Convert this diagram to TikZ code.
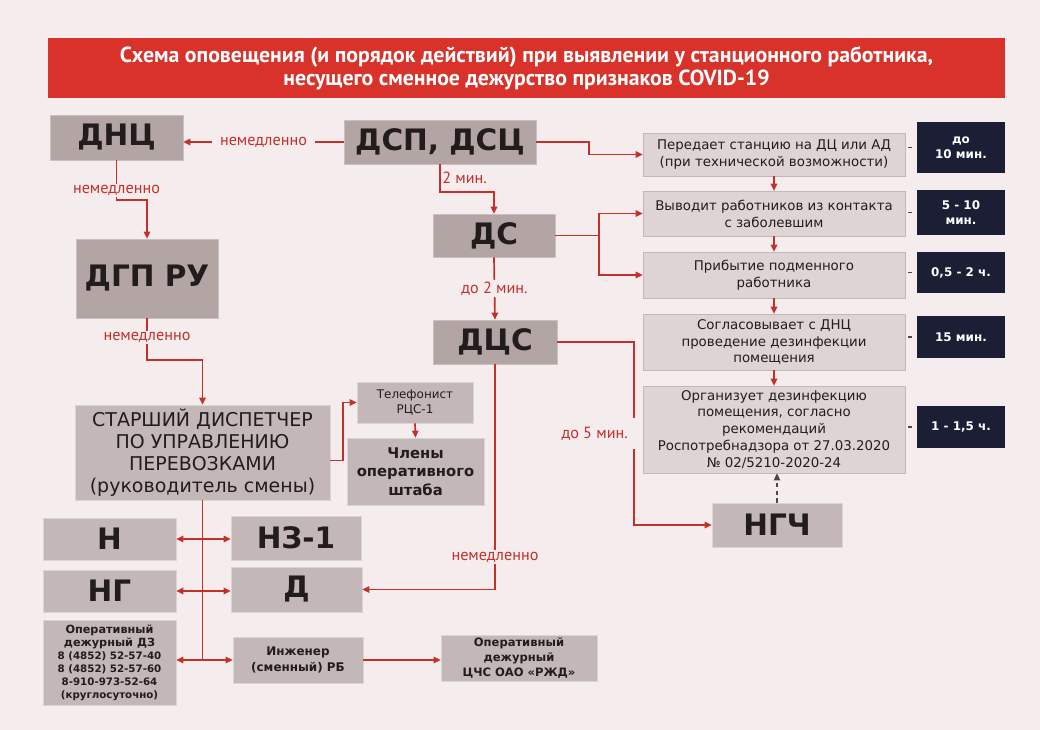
\documentclass[tikz,border=0pt]{standalone}
\usepackage{fontspec}
\setmainfont{DejaVu Sans}
\newfontfamily\lblfont{PT Sans}
\usetikzlibrary{arrows.meta,calc}

\definecolor{bgcol}{HTML}{F5EDED}
\definecolor{redline}{HTML}{C4302C}
\definecolor{bannerred}{HTML}{D8322B}
\definecolor{darkbox}{HTML}{B3A5A4}
\definecolor{midbox}{HTML}{C3B8B7}
\definecolor{lightbox}{HTML}{DDD4D3}
\definecolor{navybox}{HTML}{1B1E34}
\definecolor{inkcol}{HTML}{221C1C}

\tikzset{
  bigbox/.style={fill=darkbox, draw=darkbox!70!white, text=inkcol, inner sep=0pt,
    font=\fontsize{21}{23}\selectfont\bfseries},
  leftbox/.style={fill=midbox, draw=midbox!60!white, text=inkcol, inner sep=0pt, align=center},
  stepbox/.style={fill=lightbox, draw=midbox, text=inkcol, inner sep=0pt, align=center,
    minimum width=6.55cm, font=\fontsize{9.5}{12}\selectfont},
  timebox/.style={fill=navybox, text=white, inner sep=0pt, align=center,
    minimum width=2.2cm, font=\fontsize{8.5}{11}\selectfont\bfseries},
  link/.style={draw=redline, line width=1.2pt},
  arr/.style={link, -{Triangle[length=5pt,width=4.5pt]}},
  twoarr/.style={link, {Triangle[length=5pt,width=4.5pt]}-{Triangle[length=5pt,width=4.5pt]}},
  lbl/.style={text=redline, font=\lblfont\fontsize{11.5}{12}\selectfont, inner sep=1pt},
  gaplbl/.style={lbl, fill=bgcol},
  tie/.style={draw=inkcol!80, line width=1pt, dash pattern=on 3pt off 2.5pt},
}

\begin{document}
\begin{tikzpicture}[x=0.025cm, y=-0.025cm]
    \fill[bgcol] (0,0) rectangle (1040,730);

    % banner %
    \node[fill=bannerred, text=white, minimum width=23.925cm, minimum height=1.5cm, align=center,
      font=\lblfont\fontsize{15.5}{16.5}\selectfont\bfseries] (title) at (526.5,68)
      {Схема оповещения (и порядок действий) при выявлении у станционного работника,\\
       несущего сменное дежурство признаков COVID-19};

    % main chain %
    \node[bigbox, minimum width=3.325cm, minimum height=1.125cm] (dnc) at (116.5,137.5) {ДНЦ};
    \node[bigbox, minimum width=4.8cm, minimum height=1.1cm] (dsp) at (440,142) {ДСП, ДСЦ};
    \node[bigbox, minimum width=3.05cm, minimum height=1.075cm] (ds) at (494,235.5) {ДС};
    \node[bigbox, minimum width=3.1cm, minimum height=1.1cm] (dcs) at (495,342) {ДЦС};
    \node[bigbox, minimum width=3.55cm, minimum height=1.975cm] (dgp) at (147,278.5) {ДГП РУ};
    \node[leftbox, minimum width=3.25cm, minimum height=1.1cm, font=\fontsize{21}{23}\selectfont\bfseries] (ngch) at (777,525) {НГЧ};

    % left part %
    \node[leftbox, minimum width=6.375cm, minimum height=2.375cm, font=\fontsize{13.5}{15.5}\selectfont] (chief) at (202.5,452.5)
      {СТАРШИЙ ДИСПЕТЧЕР\\ПО УПРАВЛЕНИЮ\\ПЕРЕВОЗКАМИ\\(руководитель смены)};
    \node[leftbox, minimum width=2.9cm, minimum height=1.025cm, font=\fontsize{8.5}{11}\selectfont] (phone) at (415,402.5) {Телефонист\\РЦС-1};
    \node[leftbox, minimum width=3.425cm, minimum height=1.675cm, font=\fontsize{10.5}{13}\selectfont\bfseries] (staff) at (415.5,471.5)
      {Члены\\оперативного\\штаба};
    \node[leftbox, minimum width=3.325cm, minimum height=1.05cm, font=\fontsize{21}{23}\selectfont\bfseries] (n) at (109.5,539) {Н};
    \node[leftbox, minimum width=3.25cm, minimum height=1.1cm, font=\fontsize{21}{23}\selectfont\bfseries] (nz) at (296,538) {НЗ-1};
    \node[leftbox, minimum width=3.325cm, minimum height=1.05cm, font=\fontsize{21}{23}\selectfont\bfseries] (ng) at (109.5,591) {НГ};
    \node[leftbox, minimum width=3.275cm, minimum height=1.125cm, font=\fontsize{21}{23}\selectfont\bfseries] (d) at (296.5,589.5) {Д};
    \node[leftbox, minimum width=3.325cm, minimum height=2.125cm, font=\fontsize{7.3}{9.3}\selectfont\bfseries] (dz) at (109.5,662.5)
      {{\fontsize{8}{9.3}\selectfont Оперативный}\\{\fontsize{8}{9.3}\selectfont дежурный ДЗ}\\8 (4852) 52-57-40\\8 (4852) 52-57-60\\8-910-973-52-64\\(круглосуточно)};
    \node[leftbox, minimum width=3.25cm, minimum height=1.15cm, font=\fontsize{8.5}{11}\selectfont\bfseries] (eng) at (298,660)
      {Инженер\\(сменный) РБ};
    \node[leftbox, minimum width=3.9cm, minimum height=1.15cm, font=\fontsize{8.2}{10.5}\selectfont\bfseries] (rzd) at (519,658)
      {Оперативный\\дежурный\\ЦЧС ОАО «РЖД»};

    % steps and times %
    \node[stepbox, minimum height=1.075cm] (s1) at (774,154.5) {Передает станцию на ДЦ или АД\\(при технической возможности)};
    \node[stepbox, minimum height=1.125cm] (s2) at (774,213.5) {Выводит работников из контакта\\с заболевшим};
    \node[stepbox, minimum height=1.15cm] (s3) at (774,275) {Прибытие подменного\\работника};
    \node[stepbox, minimum height=1.4cm] (s4) at (774,342) {Согласовывает с ДНЦ\\проведение дезинфекции\\помещения};
    \node[stepbox, minimum height=2.175cm] (s5) at (774,429.5)
      {Организует дезинфекцию\\помещения, согласно\\рекомендаций\\Роспотребнадзора от 27.03.2020\\№ 02/5210-2020-24};
    \node[timebox, minimum height=1.275cm] (t1) at (961,147.5) {до\\10 мин.};
    \node[timebox, minimum height=1.125cm] (t2) at (961,212.5) {5 - 10\\мин.};
    \node[timebox, minimum height=1.025cm] (t3) at (961,272.5) {0,5 - 2 ч.};
    \node[timebox, minimum height=1.05cm] (t4) at (961,337) {15 мин.};
    \node[timebox, minimum height=1.05cm] (t5) at (961,427) {1 - 1,5 ч.};

    % connectors %
    \draw[arr] (dsp.west) -- node[gaplbl, inner xsep=6pt] {немедленно} (dsp.west -| dnc.east);
    \draw[arr] (dnc.south) -- node[gaplbl, pos=0.75] {немедленно} ++(0,40) -| (dgp.north);
    \draw[arr] (dgp.south) -- node[gaplbl, pos=0.45] {немедленно} ++(0,42) -| (chief.north);
    \draw[arr] (dsp.south) -- node[lbl, right] {2 мин.} ++(0,28) -| (ds.north);
    \draw[arr] (ds.south) -- node[gaplbl] {до 2 мин.} (dcs.north);
    \draw[arr] (dsp.east) -- ++(53,0) |- (s1.west);
    \draw[link] (ds.east) -- ++(44,0) coordinate (fork);
    \draw[arr] (fork) |- (s2.west);
    \draw[arr] (fork) |- (s3.west);
    \draw[arr] (s1.south) -- (s2.north);
    \draw[arr] (s2.south) -- (s3.north);
    \draw[arr] (s3.south) -- (s4.north);
    \draw[arr] (s4.south) -- (s5.north);
    \foreach \s/\t in {s1/t1, s2/t2, s3/t3, s4/t4, s5/t5}
        \draw[tie] ([xshift=2pt]\t.west -| \s.east) -- ([xshift=-1pt]\t.west);
    \draw[tie, -{Triangle[length=5pt,width=4.5pt]}] (ngch.north) -- (ngch.north |- s5.south);
    \draw[arr] (dcs.east) -- ++(77,0) |- node[gaplbl, pos=0.25, anchor=east, xshift=3pt, inner xsep=7pt,
      minimum height=0.78cm] {до 5 мин.} (ngch.west);
    \draw[arr] (dcs.south) |- node[gaplbl, pos=0.428] {немедленно} (d.east);
    \draw[arr] ([yshift=-0.2cm]chief.east) -- ++(13,0) |- (phone.west);
    \draw[arr] (phone.south) -- (staff.north);
    \draw[link] (chief.south) -- (chief.south |- eng.west);
    \draw[twoarr] (n.east) -- (n.east -| nz.west);
    \draw[twoarr] (ng.east) -- (ng.east -| d.west);
    \draw[twoarr] (eng.west -| dz.east) -- (eng.west);
    \draw[arr] (eng.east) -- (eng.east -| rzd.west);
\end{tikzpicture}
\end{document}
